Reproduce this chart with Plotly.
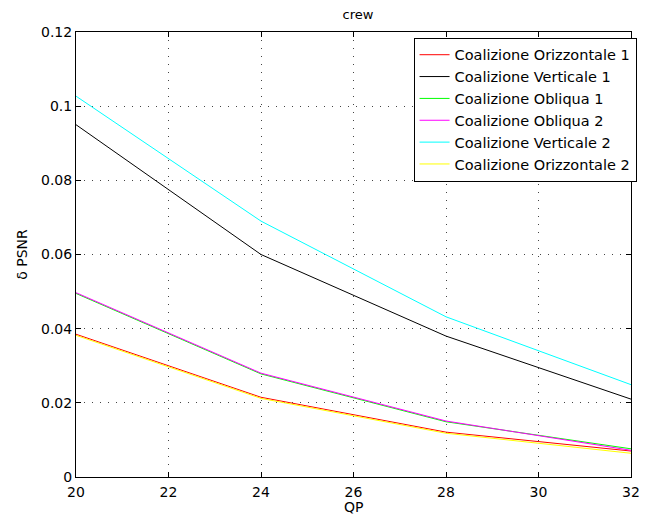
import plotly.graph_objects as go

qp = [20, 24, 28, 32]
names = ["Coalizione Orizzontale 1", "Coalizione Verticale 1", "Coalizione Obliqua 1",
         "Coalizione Obliqua 2", "Coalizione Verticale 2", "Coalizione Orizzontale 2"]
oriz1 = [0.0385, 0.0215, 0.0121, 0.0070]
vert1 = [0.0950, 0.0600, 0.0380, 0.0210]
obl1 = [0.0495, 0.0278, 0.0149, 0.0076]
obl2 = [0.0497, 0.0280, 0.0151, 0.0072]
vert2 = [0.1027, 0.0690, 0.0432, 0.0249]
oriz2 = [0.0382, 0.0212, 0.0118, 0.0064]
series = [oriz1, vert1, obl1, obl2, vert2, oriz2]
colors = ["#ff0000", "#000000", "#00ff00", "#ff00ff", "#00ffff", "#ffff00"]

fig = go.Figure()
for n, s, c in zip(names, series, colors):
    fig.add_trace(go.Scatter(x=qp, y=s, name=n, mode="lines", line=dict(color=c, width=1)))

font = "DejaVu Sans, Arial, sans-serif"
axis_common = dict(showline=True, linecolor="black", linewidth=1, mirror="ticks",
                   ticks="inside", ticklen=5, tickcolor="black",
                   showgrid=True, gridcolor="#444444", griddash="1px,7px", gridwidth=1,
                   zeroline=False, ticklabeloverflow="allow",
                   tickfont=dict(family=font, size=14, color="black"))
fig.update_layout(
    width=648, height=519,
    margin=dict(l=76, r=8, t=32, b=42),
    paper_bgcolor="white", plot_bgcolor="white",
    title=dict(text="crew", x=0.5525, xanchor="center", y=0.981, yanchor="top",
               font=dict(family=font, size=13, color="black")),
    xaxis=dict(range=[20, 32], tickvals=[20, 22, 24, 26, 28, 30, 32],
               ticklabelstandoff=2, **axis_common),
    yaxis=dict(range=[0, 0.12], tickvals=[0, 0.02, 0.04, 0.06, 0.08, 0.1, 0.12],
               ticktext=["0", "0.02", "0.04", "0.06", "0.08", "0.1", "0.12"],
               title=dict(text="δ PSNR", font=dict(family=font, size=14, color="black"), standoff=10),
               **axis_common),
    legend=dict(x=1.01, xanchor="right", y=0.987, yanchor="top",
                bordercolor="black", borderwidth=1, bgcolor="white",
                font=dict(family=font, size=14.5, color="black"), tracegroupgap=0),
    showlegend=True,
    annotations=[dict(text="QP", xref="paper", yref="paper", x=0.5, y=-0.068,
                      xanchor="center", yanchor="middle", showarrow=False,
                      font=dict(family=font, size=14, color="black"))],
)
fig.write_html("out.html", config={"displayModeBar": False},
               post_script="document.body.style.margin='0';")
